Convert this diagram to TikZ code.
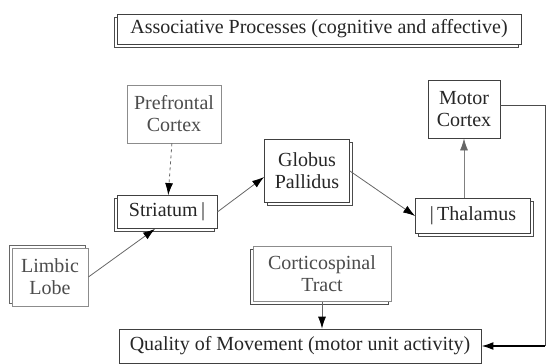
\documentclass[tikz,border=0pt]{standalone}
\usepackage{fontspec}
\setmainfont{Liberation Serif}
\usetikzlibrary{shadows,arrows.meta,calc}
\begin{document}
\begin{tikzpicture}[x=1pt,y=-1pt,
  box/.style={draw=black!75, line width=0.8pt, fill=white, align=center, inner sep=0pt,
    font=\fontsize{20}{22}\selectfont, text=black!85},
  gbox/.style={box, draw=black!45, text=black!70},
  dbl/.style={copy shadow={shadow xshift=-3pt, shadow yshift=-3pt, draw=black!70, fill=white}},
  dblr/.style={copy shadow={shadow xshift=3pt, shadow yshift=-3pt, draw=black!70, fill=white}},
  dblu/.style={copy shadow={shadow xshift=-3pt, shadow yshift=3pt, draw=black!60, fill=white}},
  conn/.style={draw=black!60, line width=0.8pt, -{Latex[length=12pt,width=8pt,black]}}]
\useasboundingbox (0,0) rectangle (560,364);
\node[box, minimum width=404pt, minimum height=30pt, dbl] (assoc) at (319,29) {Associative Processes (cognitive and affective)};
\node[gbox, minimum width=94pt, minimum height=58pt] (pfc) at (174,114) {Prefrontal\\Cortex};
\node[box, minimum width=100pt, minimum height=33pt, dbl] (str) at (167,212) {Striatum\,\textbar};
\node[box, minimum width=85pt, minimum height=63pt, dblr] (gp) at (307,171) {Globus\\Pallidus};
\node[box, minimum width=115pt, minimum height=35pt, dblr] (thal) at (473,216) {\textbar\,Thalamus};
\node[box, minimum width=72pt, minimum height=58pt] (mc) at (464,109) {Motor\\Cortex};
\node[gbox, minimum width=76pt, minimum height=58pt, dblu] (lim) at (50,277) {Limbic\\Lobe};
\node[gbox, minimum width=138pt, minimum height=55pt, dbl] (cst) at (322,274) {Corticospinal\\Tract};
\node[box, minimum width=362pt, minimum height=34pt] (qom) at (300,346) {Quality of Movement (motor unit activity)};
\coordinate (r1) at (545,105);
\coordinate (r2) at (545,346);
\draw[conn, dashed] (pfc) -- (str);
\draw[conn] (str.east) -- ([yshift=-6pt]gp.west);
\draw[conn] (gp.east) -- (thal.west);
\draw[conn, draw=black!50, -{Latex[length=12pt,width=8pt,black!60]}] (thal.north -| mc) -- (mc.south);
\draw[conn] (lim.east) -- ([xshift=-12pt]str.south);
\draw[conn] (cst.south) -- (qom.north -| cst.south);
\draw[draw=black!70, line width=0.8pt] (mc.east |- r1) -- (r1) -- (r2);
\draw[conn, draw=black, line width=1.8pt] (r2) -- (qom.east);
\end{tikzpicture}
\end{document}
